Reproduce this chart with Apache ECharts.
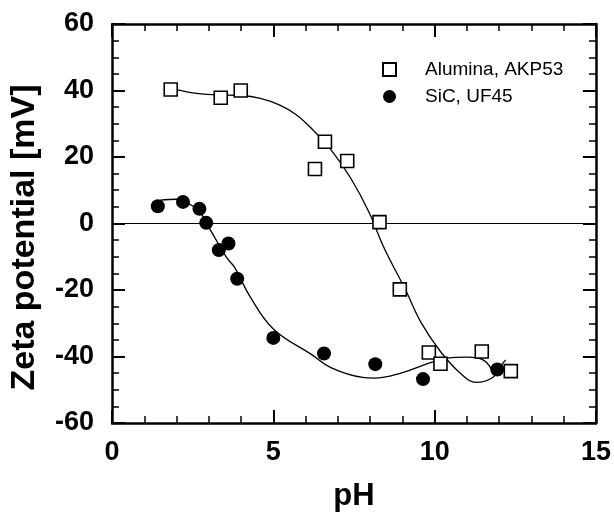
<!DOCTYPE html>
<html>
<head>
<meta charset="utf-8">
<title>Zeta potential vs pH</title>
<script src="https://cdn.jsdelivr.net/npm/echarts@6/dist/echarts.min.js"></script>
<style>
    html, body { margin: 0; padding: 0; background: #fff; }
    #chart { width: 614px; height: 517px; }
</style>
</head>
<body>
<div id="chart"></div>
<script>
// 测量点 [pH, zeta 电位 mV]
var aluminaPoints = [
    [1.82, 40.3], [3.37, 37.8], [3.99, 40.0], [6.29, 16.4], [6.60, 24.6],
    [7.29, 18.8], [8.29, 0.4], [8.92, -19.8], [9.82, -38.8], [10.18, -42.2],
    [11.46, -38.5], [12.36, -44.4]
];
var sicPoints = [
    [1.42, 5.2], [2.20, 6.5], [2.71, 4.4], [2.92, 0.2], [3.31, -8.0],
    [3.61, -6.0], [3.88, -16.6], [5.00, -34.4], [6.57, -39.1], [8.16, -42.3],
    [9.64, -46.8], [11.94, -43.9]
];

// 拟合曲线
var aluminaFit = [
    [1.8, 40.8], [2.5, 39.3], [3.2, 38.7], [4.0, 38.5], [4.6, 37.6],
    [5.2, 35.6], [5.7, 32.8], [6.2, 28.4], [6.8, 22.0], [7.4, 13.6],
    [7.95, 3.7], [8.43, -7.3], [9.1, -20.0], [9.58, -29.8], [10.18, -38.5],
    [10.78, -44.9], [11.29, -47.8], [11.8, -46.3], [12.0, -43.4], [12.2, -41.0]
];
var sicFit = [
    [1.5, 7.0], [2.0, 7.3], [2.23, 6.7], [2.7, 3.7], [3.07, -2.3],
    [3.55, -10.2], [3.8, -13.2], [4.28, -22.0], [5.0, -31.7], [6.2, -39.5],
    [6.8, -43.4], [7.77, -46.3], [8.13, -46.5], [8.98, -44.9], [9.82, -42.0],
    [10.4, -40.5], [11.0, -40.2], [11.5, -41.0], [11.87, -45.9]
];

var seriesNames = ['Alumina, AKP53', 'SiC, UF45'];

var font = 'Liberation Sans, Arial, Helvetica, sans-serif';

// 四边坐标轴的公共样式（刻度朝内）
function frameAxis(extra) {
    return Object.assign({
        type: 'value',
        axisLine: { show: true, onZero: false, lineStyle: { color: '#000', width: 2.5 } },
        axisTick: { show: true, inside: true, length: 13, lineStyle: { color: '#000', width: 2 } },
        minorTick: { show: true, length: 7, lineStyle: { color: '#000', width: 1.5 } },
        splitLine: { show: false },
        axisLabel: { show: false }
    }, extra);
}

var labelStyle = { show: true, color: '#000', fontFamily: font, fontWeight: 'bold', fontSize: 27 };
var nameStyle = { color: '#000', fontFamily: font, fontWeight: 'bold', fontSize: 31 };

var myChart = echarts.init(document.getElementById('chart'), null, { renderer: 'canvas' });

var option = {
    animation: false,
    backgroundColor: '#fff',
    grid: { left: 112, right: 18, top: 24, bottom: 89 },
    legend: {
        data: seriesNames,
        orient: 'vertical',
        left: 377,
        top: 55,
        itemWidth: 13,
        itemHeight: 13,
        itemGap: 8,
        textStyle: { color: '#000', fontFamily: font, fontSize: 19, padding: [0, 0, 0, 24] }
    },
    xAxis: [
        frameAxis({
            min: 0, max: 15, interval: 5,
            position: 'bottom',
            minorTick: { show: true, splitNumber: 5, length: 7, lineStyle: { color: '#000', width: 1.5 } },
            axisLabel: Object.assign({ margin: 16 }, labelStyle),
            name: 'pH',
            nameLocation: 'middle',
            nameGap: 58,
            nameTextStyle: nameStyle
        }),
        frameAxis({
            min: 0, max: 15, interval: 5,
            position: 'top',
            minorTick: { show: true, splitNumber: 5, length: 7, lineStyle: { color: '#000', width: 1.5 } }
        })
    ],
    yAxis: [
        frameAxis({
            min: -60, max: 60, interval: 20,
            position: 'left',
            minorTick: { show: true, splitNumber: 4, length: 7, lineStyle: { color: '#000', width: 1.5 } },
            axisLabel: Object.assign({ margin: 18 }, labelStyle),
            name: 'Zeta potential [mV]',
            nameLocation: 'middle',
            nameRotate: 90,
            nameGap: 70,
            // 标题略偏下，与原图一致
            nameTextStyle: Object.assign({}, nameStyle, { fontSize: 34, padding: [0, 28, 0, 0] })
        }),
        frameAxis({
            min: -60, max: 60, interval: 20,
            position: 'right',
            minorTick: { show: true, splitNumber: 4, length: 7, lineStyle: { color: '#000', width: 1.5 } }
        })
    ],
    series: [
        {
            name: seriesNames[0],
            type: 'scatter',
            symbol: 'rect',
            symbolSize: 13,
            z: 5,
            itemStyle: { color: '#fff', borderColor: '#000', borderWidth: 1.6, opacity: 1 },
            data: aluminaPoints
        },
        {
            name: seriesNames[1],
            type: 'scatter',
            symbol: 'circle',
            symbolSize: 14,
            z: 5,
            itemStyle: { color: '#000', opacity: 1 },
            data: sicPoints
        },
        {
            name: 'alumina-fit',
            type: 'line',
            smooth: 0.4,
            showSymbol: false,
            symbol: 'none',
            lineStyle: { color: '#000', width: 1.3 },
            data: aluminaFit,
            // pH 轴上 0 mV 的水平参考线
            markLine: {
                silent: true,
                symbol: 'none',
                label: { show: false },
                lineStyle: { color: '#000', width: 1.2, type: 'solid' },
                data: [{ yAxis: 0 }]
            }
        },
        {
            name: 'sic-fit',
            type: 'line',
            smooth: 0.4,
            showSymbol: false,
            symbol: 'none',
            lineStyle: { color: '#000', width: 1.3 },
            data: sicFit
        }
    ]
};

myChart.setOption(option);
</script>
</body>
</html>
